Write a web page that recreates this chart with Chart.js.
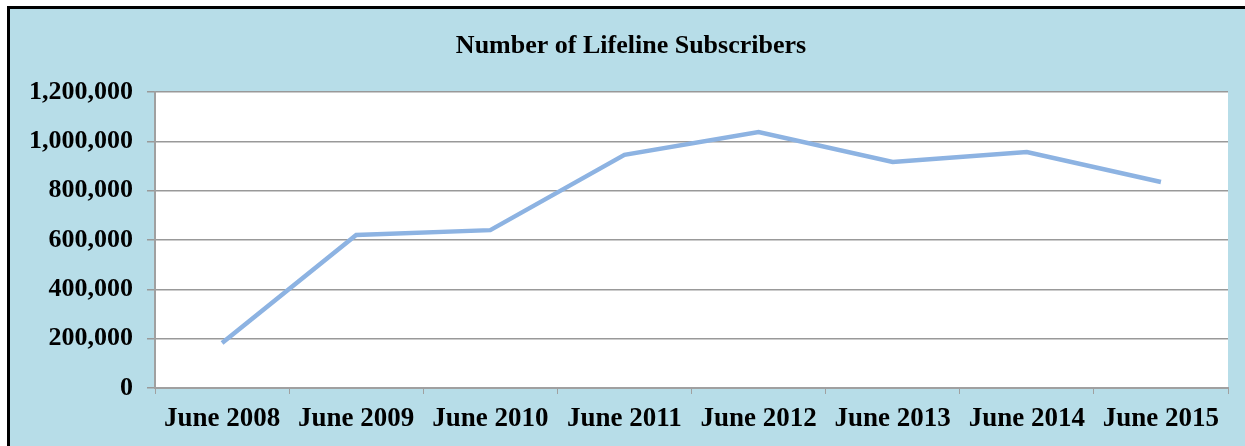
<!DOCTYPE html>
<html>
<head>
<meta charset="utf-8">
<script src="https://cdn.jsdelivr.net/npm/chart.js@4"></script>
<style>
  html, body { margin: 0; padding: 0; background: #fff; }
  #frame {
    position: absolute; left: 7px; top: 6px; width: 1238px; height: 440px;
    background: #b7dde8; border-top: 3px solid #000; border-left: 3px solid #000;
  }
  #wrap { position: absolute; left: 0; top: 0; width: 1245px; height: 446px; }
</style>
</head>
<body>
<div id="frame"></div>
<div id="wrap"><canvas id="subsChart" width="1245" height="446"></canvas></div>
<script>
let months = ['June 2008', 'June 2009', 'June 2010', 'June 2011', 'June 2012', 'June 2013', 'June 2014', 'June 2015'];
let subscribers = [182000, 620000, 640000, 945000, 1038000, 916000, 957000, 835000];
let yTicks = [0, 200000, 400000, 600000, 800000, 1000000, 1200000];
let chartTitle = 'Number of Lifeline Subscribers';

let serif = '"Liberation Serif", "Times New Roman", serif';

// white plot area
let plotBg = {
    id: 'plotBg',
    beforeDraw(chart) {
        let a = chart.chartArea;
        chart.ctx.save();
        chart.ctx.fillStyle = '#ffffff';
        chart.ctx.fillRect(a.left, a.top, a.right - a.left, a.bottom - a.top);
        chart.ctx.restore();
    }
};

// title is centred on the blue box, not on the plot, so draw it here
let boxTitle = {
    id: 'boxTitle',
    afterDraw(chart) {
        let c = chart.ctx;
        c.save();
        c.font = 'bold 26px ' + serif;
        c.fillStyle = '#000';
        c.textAlign = 'center';
        c.textBaseline = 'middle';
        c.fillText(chartTitle, 631, 46);
        c.restore();
    }
};

let ctx = document.getElementById('subsChart').getContext('2d');
let subsChart = new Chart(ctx, {
    type: 'line',
    data: {
        labels: months,
        datasets: [{
            label: 'Subscribers',
            data: subscribers,
            borderColor: '#8db3e2',
            borderWidth: 4.5,
            pointRadius: 0,
            tension: 0,
            fill: false
        }]
    },
    options: {
        responsive: false,
        animation: false,
        layout: { padding: { left: 10, right: 17, top: 92, bottom: 0 } },
        plugins: {
            legend: { display: false },
            tooltip: { enabled: false },
            title: { display: false }
        },
        scales: {
            x: {
                offset: true,
                grid: { offset: true, drawOnChartArea: false, drawTicks: true, tickLength: 6, color: '#a0a0a0' },
                border: { color: '#a0a0a0', width: 2 },
                ticks: { color: '#000', padding: 9, maxRotation: 0, font: { family: serif, size: 27, weight: 'bold' } },
                afterFit(scale) { scale.height = 58; }
            },
            y: {
                min: 0,
                max: 1200000,
                afterBuildTicks(scale) { scale.ticks = yTicks.map(v => ({ value: v })); },
                grid: { color: '#999999', lineWidth: 1.5, tickLength: 8 },
                border: { color: '#a0a0a0', width: 2 },
                ticks: {
                    color: '#000',
                    padding: 14,
                    font: { family: serif, size: 26, weight: 'bold' },
                    callback: v => v.toLocaleString('en-US')
                },
                afterFit(scale) { scale.width = 145; }
            }
        }
    },
    plugins: [plotBg, boxTitle]
});
</script>
</body>
</html>
